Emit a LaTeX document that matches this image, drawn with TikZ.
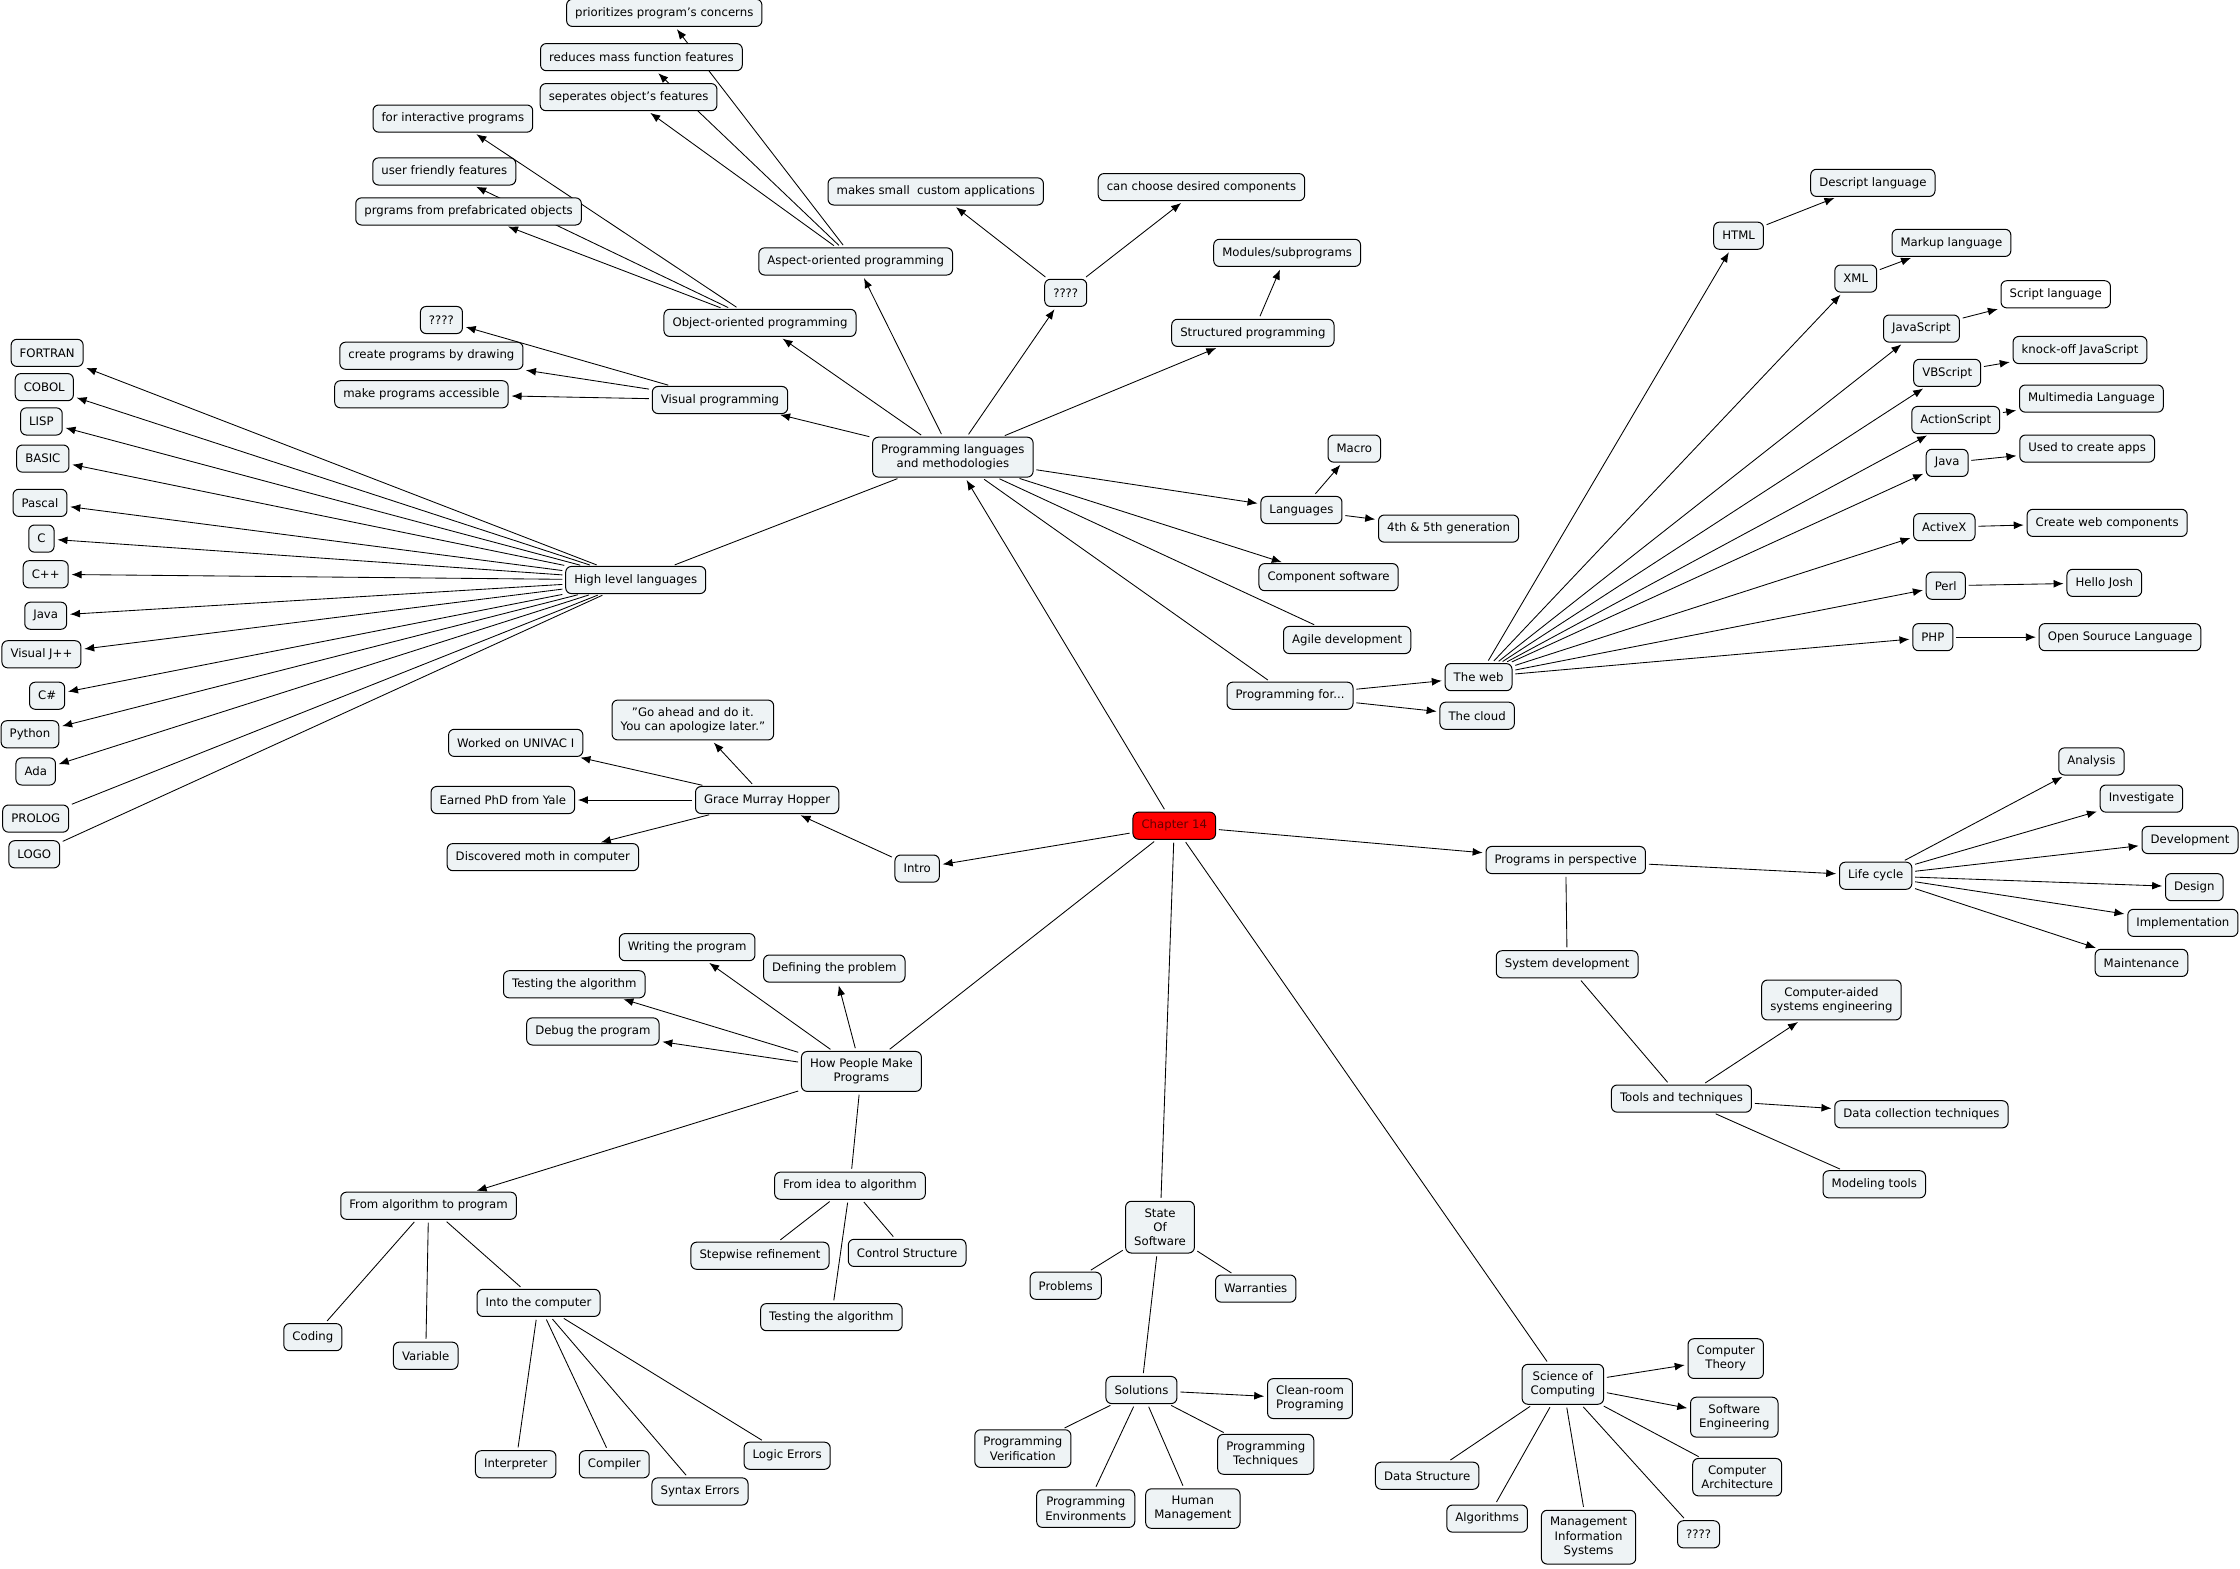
\documentclass[tikz,border=0pt]{standalone}
\usepackage{fontspec}
\setmainfont{DejaVu Sans}
\usetikzlibrary{arrows.meta,backgrounds}

\definecolor{myfill}{RGB}{238,243,245}
\definecolor{myred}{RGB}{255,0,0}
\definecolor{mytext}{RGB}{100,0,0}

\tikzset{
  concept/.style={draw, rounded corners=4pt, fill=myfill, align=center,
    inner xsep=6pt, inner ysep=5pt, minimum height=19pt, line width=0.7pt,
    font=\fontsize{8.2}{10}\selectfont},
  link/.style={-{Latex[length=7pt,width=5.5pt]}, line width=0.6pt, shorten >=2pt, shorten <=2pt},
  tie/.style={line width=0.6pt, shorten >=2pt, shorten <=2pt},
}

\begin{document}
\begin{tikzpicture}[x=1pt,y=-1pt]
	\useasboundingbox (0,0) rectangle (1568,1098);

	% centre
	\node [concept, fill=myred, text=mytext] (ch) at (822,578) {Chapter 14};
	\node [concept] (intro) at (642,608) {Intro};
	\node [concept] (plm) at (667,320) {Programming languages\\and methodologies};
	\node [concept] (how) at (603,750) {How People Make\\Programs};
	\node [concept] (sos) at (812,859) {State\\Of\\Software};
	\node [concept] (sci) at (1094,969) {Science of\\Computing};
	\node [concept] (pip) at (1096,602) {Programs in perspective};

	% aspect / object / visual
	\node [concept] (prio) at (465,9) {prioritizes program's concerns};
	\node [concept] (redu) at (449,40) {reduces mass function features};
	\node [concept] (sepa) at (440,68) {seperates object's features};
	\node [concept] (inter) at (317,83) {for interactive programs};
	\node [concept] (user) at (311,120) {user friendly features};
	\node [concept] (pref) at (328,148) {prgrams from prefabricated objects};
	\node [concept] (aop) at (599,183) {Aspect-oriented programming};
	\node [concept] (oop) at (532,226) {Object-oriented programming};
	\node [concept] (qvis) at (309,224) {????};
	\node [concept] (draw) at (302,249) {create programs by drawing};
	\node [concept] (acc) at (295,276) {make programs accessible};
	\node [concept] (vis) at (504,280) {Visual programming};
	\node [concept] (small) at (655,134) {makes small\ \ custom applications};
	\node [concept] (qmid) at (746,205) {????};
	\node [concept] (choose) at (841,131) {can choose desired components};
	\node [concept] (mods) at (901,177) {Modules/subprograms};
	\node [concept] (struct) at (877,233) {Structured programming};

	% languages
	\node [concept] (macro) at (948,314) {Macro};
	\node [concept] (langs) at (911,357) {Languages};
	\node [concept] (gen) at (1014,370) {4th \& 5th generation};
	\node [concept] (comp) at (930,404) {Component software};
	\node [concept] (agile) at (943,448) {Agile development};
	\node [concept] (pfor) at (903,487) {Programming for...};
	\node [concept] (web) at (1035,474) {The web};
	\node [concept] (cloud) at (1034,501) {The cloud};

	% web
	\node [concept] (html) at (1217,165) {HTML};
	\node [concept] (desc) at (1311,128) {Descript language};
	\node [concept] (xml) at (1299,195) {XML};
	\node [concept] (mark) at (1366,170) {Markup language};
	\node [concept] (js) at (1345,230) {JavaScript};
	\node [concept, fill=white] (scr) at (1439,206) {Script language};
	\node [concept] (vbs) at (1363,261) {VBScript};
	\node [concept] (knock) at (1456,245) {knock-off JavaScript};
	\node [concept] (as) at (1369,294) {ActionScript};
	\node [concept] (multi) at (1464,279) {Multimedia Language};
	\node [concept] (wjava) at (1363,324) {Java};
	\node [concept] (apps) at (1461,314) {Used to create apps};
	\node [concept] (actx) at (1361,369) {ActiveX};
	\node [concept] (wcomp) at (1475,366) {Create web components};
	\node [concept] (perl) at (1362,410) {Perl};
	\node [concept] (josh) at (1473,408) {Hello Josh};
	\node [concept] (php) at (1353,446) {PHP};
	\node [concept] (open) at (1484,446) {Open Souruce Language};

	% high level
	\node [concept] (hll) at (445,406) {High level languages};
	\node [concept] (l1) at (33,247) {FORTRAN};
	\node [concept] (l2) at (31,271) {COBOL};
	\node [concept] (l3) at (29,295) {LISP};
	\node [concept] (l4) at (30,321) {BASIC};
	\node [concept] (l5) at (28,352) {Pascal};
	\node [concept] (l6) at (29,377) {C};
	\node [concept] (l7) at (32,402) {C++};
	\node [concept] (l8) at (32,431) {Java};
	\node [concept] (l9) at (29,458) {Visual J++};
	\node [concept] (l10) at (33,487) {C\#};
	\node [concept] (l11) at (21,514) {Python};
	\node [concept] (l12) at (25,540) {Ada};
	\node [concept] (l13) at (25,573) {PROLOG};
	\node [concept] (l14) at (24,598) {LOGO};

	% grace
	\node [concept] (quote) at (485,504) {"Go ahead and do it.\\You can apologize later."};
	\node [concept] (univac) at (361,520) {Worked on UNIVAC I};
	\node [concept] (grace) at (537,560) {Grace Murray Hopper};
	\node [concept] (phd) at (352,560) {Earned PhD from Yale};
	\node [concept] (moth) at (380,600) {Discovered moth in computer};

	% how people
	\node [concept] (write) at (481,663) {Writing the program};
	\node [concept] (define) at (584,678) {Defining the problem};
	\node [concept] (test) at (402,689) {Testing the algorithm};
	\node [concept] (debug) at (415,722) {Debug the program};
	\node [concept] (a2p) at (300,844) {From algorithm to program};
	\node [concept] (i2a) at (595,830) {From idea to algorithm};
	\node [concept] (step) at (532,879) {Stepwise refinement};
	\node [concept] (ctrl) at (635,877) {Control Structure};
	\node [concept] (testb) at (582,922) {Testing the algorithm};
	\node [concept] (coding) at (219,936) {Coding};
	\node [concept] (var) at (298,949) {Variable};
	\node [concept] (into) at (377,912) {Into the computer};
	\node [concept] (interp) at (361,1025) {Interpreter};
	\node [concept] (compl) at (430,1025) {Compiler};
	\node [concept] (syn) at (490,1044) {Syntax Errors};
	\node [concept] (logic) at (551,1019) {Logic Errors};

	% state of software
	\node [concept] (prob) at (746,900) {Problems};
	\node [concept] (warr) at (879,902) {Warranties};
	\node [concept] (sol) at (799,973) {Solutions};
	\node [concept] (clean) at (917,979) {Clean-room\\Programing};
	\node [concept] (verif) at (716,1014) {Programming\\Verification};
	\node [concept] (env) at (760,1056) {Programming\\Environments};
	\node [concept] (human) at (835,1056) {Human\\Management};
	\node [concept] (tech) at (886,1018) {Programming\\Techniques};

	% perspective
	\node [concept] (life) at (1313,613) {Life cycle};
	\node [concept] (c1) at (1464,533) {Analysis};
	\node [concept] (c2) at (1499,559) {Investigate};
	\node [concept] (c3) at (1533,588) {Development};
	\node [concept] (c4) at (1536,621) {Design};
	\node [concept] (c5) at (1528,646) {Implementation};
	\node [concept] (c6) at (1499,674) {Maintenance};
	\node [concept] (sysd) at (1097,675) {System development};
	\node [concept] (case) at (1282,700) {Computer-aided\\systems engineering};
	\node [concept] (tools) at (1177,769) {Tools and techniques};
	\node [concept] (data) at (1345,780) {Data collection techniques};
	\node [concept] (model) at (1312,829) {Modeling tools};

	% science
	\node [concept] (theory) at (1208,951) {Computer\\Theory};
	\node [concept] (softe) at (1214,992) {Software\\Engineering};
	\node [concept] (arch) at (1216,1034) {Computer\\Architecture};
	\node [concept] (dstr) at (999,1033) {Data Structure};
	\node [concept] (algo) at (1041,1063) {Algorithms};
	\node [concept] (mis) at (1112,1076) {Management\\Information\\Systems};
	\node [concept] (qsci) at (1189,1074) {????};

	% links
	\begin{pgfonlayer}{background}
	\draw [link] (ch) -- (intro);
	\draw [link] (ch) -- (pip);
	\draw [link] (ch) -- (plm);
	\draw [tie] (ch) -- (how);
	\draw [tie] (ch) -- (sos);
	\draw [tie] (ch) -- (sci);

	\foreach \t in {vis,oop,aop,qmid,struct,langs,comp}
		\draw [link] (plm) -- (\t);
	\foreach \t in {agile,pfor,hll}
		\draw [tie] (plm) -- (\t);
	\foreach \t in {prio,redu,sepa}
		\draw [link] (aop) -- (\t);
	\foreach \t in {inter,user,pref}
		\draw [link] (oop) -- (\t);
	\foreach \t in {qvis,draw,acc}
		\draw [link] (vis) -- (\t);
	\draw [link] (qmid) -- (small);
	\draw [link] (qmid) -- (choose);
	\draw [link] (struct) -- (mods);
	\draw [link] (langs) -- (macro);
	\draw [link] (langs) -- (gen);
	\draw [link] (pfor) -- (web);
	\draw [link] (pfor) -- (cloud);

	\foreach \s/\t in {html/desc,xml/mark,js/scr,vbs/knock,as/multi,wjava/apps,actx/wcomp,perl/josh,php/open} {
		\draw [link] (web) -- (\s);
		\draw [link] (\s) -- (\t);
	}

	\foreach \i in {1,...,12}
		\draw [link] (hll) -- (l\i);
	\draw [tie] (hll) -- (l13);
	\draw [tie] (hll) -- (l14);

	\draw [link] (intro) -- (grace);
	\foreach \t in {quote,univac,phd,moth}
		\draw [link] (grace) -- (\t);

	\foreach \t in {write,define,test,debug,a2p}
		\draw [link] (how) -- (\t);
	\draw [tie] (how) -- (i2a);
	\foreach \t in {step,ctrl,testb}
		\draw [tie] (i2a) -- (\t);
	\foreach \t in {coding,var,into}
		\draw [tie] (a2p) -- (\t);
	\foreach \t in {interp,compl,syn,logic}
		\draw [tie] (into) -- (\t);

	\foreach \t in {prob,warr,sol}
		\draw [tie] (sos) -- (\t);
	\draw [link] (sol) -- (clean);
	\foreach \t in {verif,env,human,tech}
		\draw [tie] (sol) -- (\t);

	\draw [link] (pip) -- (life);
	\draw [tie] (pip) -- (sysd);
	\foreach \i in {1,...,6}
		\draw [link] (life) -- (c\i);
	\draw [tie] (sysd) -- (tools);
	\draw [link] (tools) -- (case);
	\draw [link] (tools) -- (data);
	\draw [tie] (tools) -- (model);

	\draw [link] (sci) -- (theory);
	\draw [link] (sci) -- (softe);
	\foreach \t in {arch,dstr,algo,mis,qsci}
		\draw [tie] (sci) -- (\t);
	\end{pgfonlayer}
\end{tikzpicture}
\end{document}
